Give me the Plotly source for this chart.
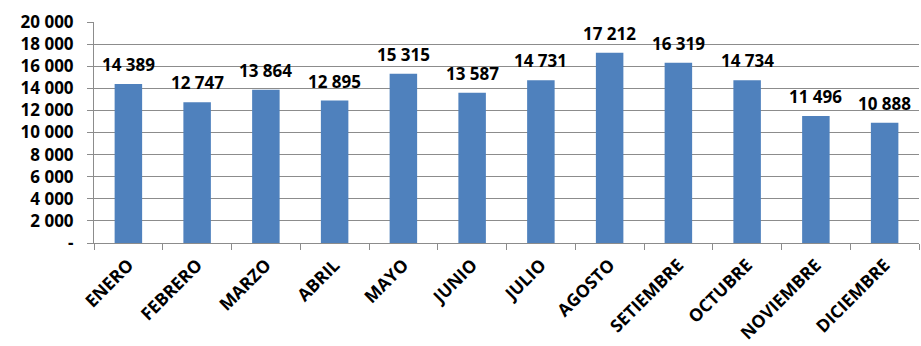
import plotly.graph_objects as go

months = ["ENERO", "FEBRERO", "MARZO", "ABRIL", "MAYO", "JUNIO", "JULIO",
          "AGOSTO", "SETIEMBRE", "OCTUBRE", "NOVIEMBRE", "DICIEMBRE"]
values = [14389, 12747, 13864, 12895, 15315, 13587, 14731,
          17212, 16319, 14734, 11496, 10888]
y_ticks = [0, 2000, 4000, 6000, 8000, 10000, 12000, 14000, 16000, 18000, 20000]
y_tick_labels = ["-", "2 000", "4 000", "6 000", "8 000", "10 000", "12 000",
                 "14 000", "16 000", "18 000", "20 000"]

FONT = "Open Sans"
grid = "#8c8c8c"

def fmt(v):
    return f"{v:,}".replace(",", " ")

fig = go.Figure()
fig.add_trace(go.Bar(
    x=months, y=values,
    marker=dict(color="#4F81BD", line=dict(width=0)),
    hoverinfo="skip",
))

for m, v in zip(months, values):
    fig.add_annotation(
        x=m, y=v, text=fmt(v), showarrow=False,
        yanchor="bottom", yshift=6,
        font=dict(family=FONT, size=17, color="#000000", weight="bold"),
    )

fig.update_layout(
    width=921, height=346,
    margin=dict(l=94, r=2, t=22, b=103, autoexpand=False),
    paper_bgcolor="white", plot_bgcolor="white",
    bargap=0.6,
    showlegend=False,
    font=dict(family=FONT, size=17, color="#000000", weight="bold"),
    xaxis=dict(
        type="category",
        tickson="boundaries",
        automargin=False,
        ticks="outside", ticklen=6, tickcolor=grid, tickwidth=1,
        showline=True, linecolor=grid, linewidth=1,
        showgrid=False,
        tickangle=-45,
        ticklabelstandoff=4,
        tickfont=dict(family=FONT, size=17.5, color="#000000", weight="bold"),
    ),
    yaxis=dict(
        range=[0, 20000],
        automargin=False,
        tickvals=y_ticks, ticktext=y_tick_labels,
        ticks="outside", ticklen=6, tickcolor=grid, tickwidth=1,
        showline=True, linecolor=grid, linewidth=1,
        showgrid=True, gridcolor=grid, gridwidth=1,
        zeroline=False,
        ticklabelstandoff=10,
        tickfont=dict(family=FONT, size=17, color="#000000", weight="bold"),
    ),
)

fig.write_html(
    "out.html",
    config={"displayModeBar": False},
    post_script="document.body.style.margin='0';document.body.style.overflow='hidden';",
)
